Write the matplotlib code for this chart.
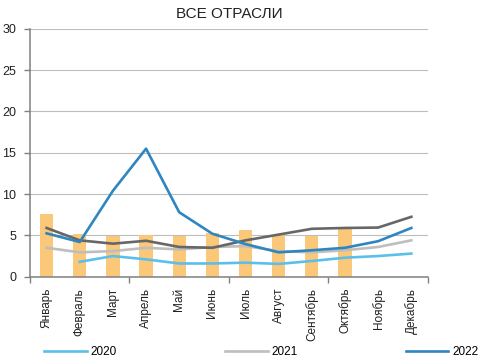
import numpy as np
import matplotlib
matplotlib.use("Agg")
import matplotlib.pyplot as plt
from matplotlib.lines import Line2D

plt.rcParams['font.family'] = ['Liberation Sans', 'DejaVu Sans']

months = ['Январь', 'Февраль', 'Март', 'Апрель', 'Май', 'Июнь', 'Июль',
          'Август', 'Сентябрь', 'Октябрь', 'Ноябрь', 'Декабрь']
bars = [7.6, 5.2, 4.9, 5.0, 4.95, 5.35, 5.65, 5.05, 4.95, 5.8, np.nan, np.nan]
s2020 = [np.nan, 1.8, 2.5, 2.1, 1.6, 1.6, 1.7, 1.55, 1.9, 2.3, 2.5, 2.8]
s2021 = [3.5, 2.95, 3.1, 3.5, 3.3, 3.6, 3.7, 3.1, 2.95, 3.2, 3.6, 4.4]
s_dark = [5.9, 4.4, 4.0, 4.35, 3.6, 3.5, 4.4, 5.1, 5.8, 5.9, 5.95, 7.25]
s2022 = [5.25, 4.2, 10.4, 15.5, 7.8, 5.2, 3.95, 2.95, 3.2, 3.5, 4.3, 5.9]

c_bar = '#FBC879'
c2020 = '#5BBFEA'
c2021 = '#BEBEBE'
c_dark = '#676767'
c2022 = '#2E86C1'

fig = plt.figure(figsize=(4.8, 3.61), dpi=100)
ax = fig.add_axes([0.0625, 0.2335, 0.829, 0.6865])

x = np.arange(len(months))
ax.bar(x, bars, width=0.4, color=c_bar, zorder=2)
ax.plot(x, s2020, color=c2020, lw=1.9, zorder=3)
ax.plot(x, s2021, color=c2021, lw=1.9, zorder=3)
ax.plot(x, s_dark, color=c_dark, lw=1.9, zorder=4)
ax.plot(x, s2022, color=c2022, lw=1.9, zorder=5)

ax.set_xlim(-0.5, 11.5)
ax.set_ylim(0, 30)
ax.set_yticks(range(0, 31, 5))
ax.yaxis.grid(True, color='#BDBDBD', lw=0.8)
ax.set_axisbelow(True)

ax.set_xticks([-0.5, 2.5, 5.5, 8.5, 11.5])
ax.set_xticklabels([])
ax.set_xticks(x, minor=True)
ax.set_xticklabels(months, minor=True, rotation=90, fontsize=8.5, color='#222222')
ax.tick_params(axis='x', which='minor', length=0, pad=8)
ax.tick_params(axis='x', which='major', length=4, color='#808080', width=1)
ax.tick_params(axis='y', length=4, color='#808080', width=1, labelsize=9,
               labelcolor='#222222', pad=6)

for side in ['top', 'right']:
    ax.spines[side].set_visible(False)
for side in ['left', 'bottom']:
    ax.spines[side].set_color('#808080')
    ax.spines[side].set_linewidth(1.1)

ax.set_title('ВСЕ ОТРАСЛИ', fontsize=11, color='#222222', pad=8)

handles = [Line2D([], [], color=c2020, lw=1.9),
           Line2D([], [], color=c2021, lw=1.9),
           Line2D([], [], color=c2022, lw=1.9)]
fig.legend(handles, ['2020', '2021', '2022'], loc='center left',
           bbox_to_anchor=(0.092, 0.025), ncol=3, frameon=False,
           fontsize=8.5, handlelength=3.6, handletextpad=0.3,
           columnspacing=9.2, borderaxespad=0, borderpad=0)

fig.savefig('out.png', dpi=100)
